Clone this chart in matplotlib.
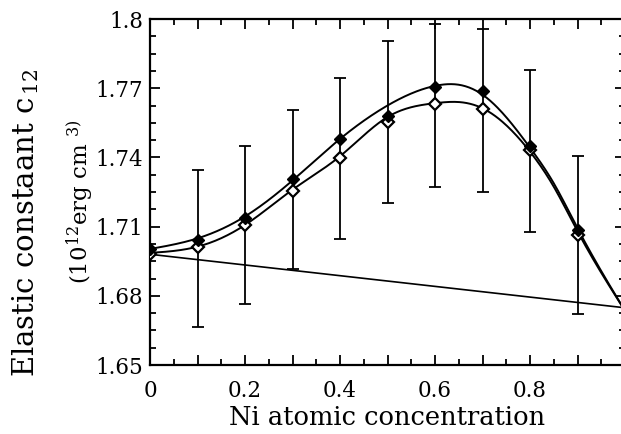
import numpy as np
import matplotlib
matplotlib.use("Agg")
import matplotlib.pyplot as plt
from matplotlib.ticker import MultipleLocator, FixedLocator

plt.rcParams['font.family'] = ['DejaVu Serif']
plt.rcParams['mathtext.fontset'] = 'dejavuserif'

# ---- data ----
ni_conc = [0.0, 0.1, 0.2, 0.3, 0.4, 0.5, 0.6, 0.7, 0.8, 0.9]
c12_filled = [1.7003, 1.7042, 1.7137, 1.7306, 1.748, 1.758, 1.7706, 1.7688, 1.745, 1.7086]
c12_open = [1.698, 1.7012, 1.7107, 1.7254, 1.7397, 1.7554, 1.7632, 1.761, 1.7433, 1.7065]
err_x = [0.1, 0.2, 0.3, 0.4, 0.5, 0.6, 0.7, 0.8, 0.9]
err_top = [1.7346, 1.745, 1.7606, 1.7744, 1.7905, 1.7978, 1.7957, 1.778, 1.7406]
err_bot = [1.6666, 1.6766, 1.6917, 1.7047, 1.7203, 1.7272, 1.725, 1.7077, 1.6722]
# smooth curves
curve_x = [0.0, 0.1, 0.2, 0.3, 0.4, 0.5, 0.6, 0.65, 0.7, 0.8, 0.85, 0.9, 1.0]
curve_upper = [1.7003, 1.7049, 1.7144, 1.7300, 1.7480, 1.7625, 1.7710, 1.7715, 1.7672, 1.7442, 1.7288, 1.7093, 1.6735]
curve_lower = [1.6986, 1.7013, 1.7107, 1.7260, 1.7405, 1.7575, 1.7635, 1.7640, 1.7613, 1.7425, 1.7273, 1.7080, 1.6735]
linear_x = [0.0, 1.0]
linear_y = [1.698, 1.6748]
x_tick_vals = [0.0, 0.1, 0.2, 0.3, 0.4, 0.5, 0.6, 0.7, 0.8, 0.9, 1.0]
x_tick_labels = ['0', '', '0.2', '', '0.4', '', '0.6', '', '0.8', '', '']
y_tick_vals = [1.65, 1.68, 1.71, 1.74, 1.77, 1.80]
y_tick_labels = ['1.65', '1.68', '1.71', '1.74', '1.77', '1.8']


def natural_spline(x, y, xs):
    x = np.asarray(x, float); y = np.asarray(y, float)
    n = len(x)
    h = np.diff(x)
    A = np.zeros((n, n)); b = np.zeros(n)
    A[0, 0] = 1; A[-1, -1] = 1
    for i in range(1, n - 1):
        A[i, i - 1] = h[i - 1]
        A[i, i] = 2 * (h[i - 1] + h[i])
        A[i, i + 1] = h[i]
        b[i] = 6 * ((y[i + 1] - y[i]) / h[i] - (y[i] - y[i - 1]) / h[i - 1])
    M = np.linalg.solve(A, b)
    idx = np.clip(np.searchsorted(x, xs) - 1, 0, n - 2)
    x0 = x[idx]; x1 = x[idx + 1]; hh = x1 - x0
    t0 = x1 - xs; t1 = xs - x0
    return (M[idx] * t0**3 / (6 * hh) + M[idx + 1] * t1**3 / (6 * hh)
            + (y[idx] / hh - M[idx] * hh / 6) * t0
            + (y[idx + 1] / hh - M[idx + 1] * hh / 6) * t1)


W, H = 621, 434
fig = plt.figure(figsize=(W / 100, H / 100), dpi=100)
ax = fig.add_axes([150 / W, (H - 365) / H, (625 - 150) / W, (365 - 19) / H])

xs = np.linspace(0, 1, 400)
ax.plot(xs, natural_spline(curve_x, curve_upper, xs), color='black', lw=1.4, zorder=2)
ax.plot(xs, natural_spline(curve_x, curve_lower, xs), color='black', lw=1.4, zorder=2)
ax.plot(linear_x, linear_y, color='black', lw=1.2, zorder=2)

centers = [(t + b) / 2 for t, b in zip(err_top, err_bot)]
yerr = [[c - b for c, b in zip(centers, err_bot)], [t - c for c, t in zip(centers, err_top)]]
ax.errorbar(err_x, centers, yerr=yerr, fmt='none', ecolor='black', elinewidth=1.3,
            capsize=4, capthick=1.3, zorder=1)

ax.plot(ni_conc, c12_open, linestyle='none', marker='D', markersize=6.5,
        markerfacecolor='white', markeredgecolor='black', markeredgewidth=1.6, zorder=3)
ax.plot(ni_conc, c12_filled, linestyle='none', marker='D', markersize=6.5,
        markerfacecolor='black', markeredgecolor='black', zorder=4)

ax.set_xlim(0, 1.0)
ax.set_ylim(1.65, 1.80)
ax.set_xticks(x_tick_vals)
ax.set_xticklabels(x_tick_labels)
ax.xaxis.set_minor_locator(MultipleLocator(0.05))
ax.yaxis.set_major_locator(FixedLocator(y_tick_vals))
ax.yaxis.set_minor_locator(MultipleLocator(0.0075))
ax.set_yticklabels(y_tick_labels)

ax.tick_params(which='both', direction='in', top=True, right=True, width=1.3, colors='black')
ax.tick_params(which='major', length=7)
ax.tick_params(which='minor', length=4)
ax.tick_params(axis='both', labelsize=15.5)
ax.tick_params(axis='x', pad=11)
ax.tick_params(axis='y', pad=5)
for s in ax.spines.values():
    s.set_linewidth(1.6)

ax.set_xlabel('Ni atomic concentration', fontsize=18.5, labelpad=2)

fig.text(26 / W, 1 - 223 / H, r'Elastic constaant c$_{\,12}$', rotation=90,
         ha='center', va='center', fontsize=21)
fig.text(80 / W, 1 - 202 / H, r'(10$^{12}$erg cm $^{3)}$', rotation=90,
         ha='center', va='center', fontsize=16.5)

fig.savefig('out.png', dpi=100)
